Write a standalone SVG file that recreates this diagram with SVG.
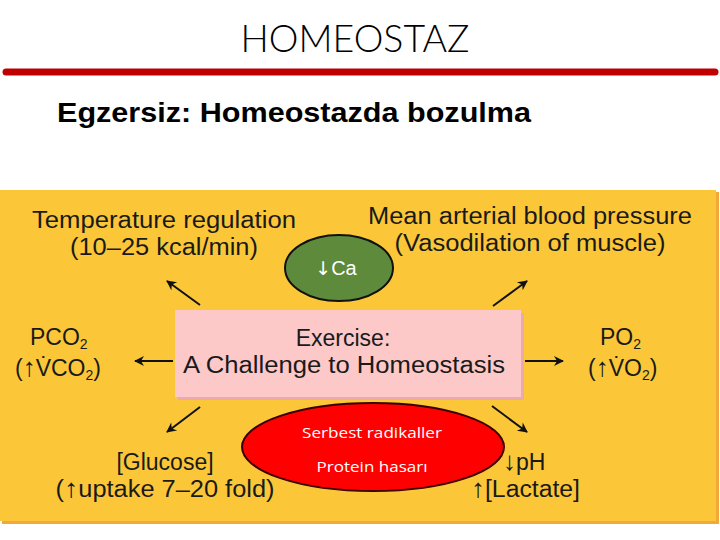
<svg xmlns="http://www.w3.org/2000/svg" width="720" height="540" viewBox="0 0 720 540">
<defs>
<style>
.h{font-family:"Liberation Sans",Arial,sans-serif;fill:#1a1a1a;font-size:23px}
.a{font-family:"Liberation Sans",Arial,sans-serif;font-size:26px}
.s{font-size:14px}
.w{font-family:"Open Sans","Liberation Sans",sans-serif;fill:#fff;font-size:15px}
.c{stroke:#111;stroke-width:2;fill:none;marker-end:url(#ah)}
</style>
<marker id="ah" viewBox="0 0 10 10" refX="9" refY="5" markerWidth="12" markerHeight="10" orient="auto" markerUnits="userSpaceOnUse">
<path d="M0,0 L10,5 L0,10 L3,5 z" fill="#111"/>
</marker>
</defs>
<rect width="720" height="540" fill="#fff"/>
<g id="title">
<text x="355" y="52" text-anchor="middle" font-family="Lato,Liberation Sans,Arial,sans-serif" font-weight="300" font-size="38" fill="#000" textLength="229" lengthAdjust="spacingAndGlyphs">HOMEOSTAZ</text>
<line x1="6" y1="72" x2="715" y2="72" stroke="#C00000" stroke-width="7" stroke-linecap="round"/>
<text x="57" y="122" font-family="Liberation Sans,Arial,sans-serif" font-weight="bold" font-size="28" fill="#000" textLength="474" lengthAdjust="spacingAndGlyphs">Egzersiz: Homeostazda bozulma</text>
</g>
<g id="panel">
<rect x="2" y="192" width="717" height="332" fill="#F0A93A"/>
<rect x="0" y="190" width="716" height="331" fill="#FBC739"/>
</g>
<g id="connectors">
<line class="c" x1="200" y1="305" x2="167" y2="281"/>
<line class="c" x1="493" y1="306" x2="527" y2="281"/>
<line class="c" x1="173" y1="361" x2="135" y2="361"/>
<line class="c" x1="525" y1="361" x2="563" y2="361"/>
<line class="c" x1="200" y1="407" x2="167" y2="432"/>
<line class="c" x1="492" y1="406" x2="527" y2="432"/>
</g>
<g id="temperature">
<text class="h" x="164" y="228" text-anchor="middle" textLength="264" lengthAdjust="spacingAndGlyphs">Temperature regulation</text>
<text class="h" x="164" y="255" text-anchor="middle" textLength="188" lengthAdjust="spacingAndGlyphs">(10–25 kcal/min)</text>
</g>
<g id="pressure">
<text class="h" x="530" y="224" text-anchor="middle" textLength="324" lengthAdjust="spacingAndGlyphs">Mean arterial blood pressure</text>
<text class="h" x="530" y="251" text-anchor="middle" textLength="271" lengthAdjust="spacingAndGlyphs">(Vasodilation of muscle)</text>
</g>
<g id="pco2">
<text class="h" x="30" y="345">PCO<tspan class="s" dy="4">2</tspan></text>
<text class="h" x="15" y="376">(<tspan class="a">↑</tspan>V̇CO<tspan class="s" dy="4">2</tspan><tspan dy="-4">)</tspan></text>
</g>
<g id="po2">
<text class="h" x="600" y="345">PO<tspan class="s" dy="4">2</tspan></text>
<text class="h" x="588" y="376">(<tspan class="a">↑</tspan>V̇O<tspan class="s" dy="4">2</tspan><tspan dy="-4">)</tspan></text>
</g>
<g id="glucose">
<text class="h" x="165" y="470" text-anchor="middle">[Glucose]</text>
<text class="h" x="165" y="497" text-anchor="middle" textLength="219" lengthAdjust="spacingAndGlyphs">(<tspan class="a">↑</tspan>uptake 7–20 fold)</text>
</g>
<g id="ph">
<text class="h" x="503" y="470"><tspan class="a">↓</tspan>pH</text>
<text class="h" x="471" y="497" textLength="109" lengthAdjust="spacingAndGlyphs"><tspan class="a">↑</tspan>[Lactate]</text>
</g>
<g id="exercise">
<rect x="178" y="313" width="346" height="87" fill="#EBAAAD"/>
<rect x="175" y="310" width="346" height="87" fill="#FCC8C8"/>
<text class="h" x="343" y="346" text-anchor="middle" font-size="24">Exercise:</text>
<text class="h" x="344" y="373" text-anchor="middle" font-size="24" textLength="322" lengthAdjust="spacingAndGlyphs">A Challenge to Homeostasis</text>
</g>
<g id="calcium">
<ellipse cx="339" cy="268" rx="54" ry="33" fill="#5E8A3C" stroke="#111" stroke-width="2"/>
<text x="336" y="275" text-anchor="middle" font-family="DejaVu Sans,sans-serif" font-size="19" fill="#fff"><tspan>↓</tspan><tspan font-family="Liberation Sans,Arial,sans-serif" font-size="20">Ca</tspan></text>
</g>
<g id="radicals">
<ellipse cx="373" cy="447" rx="131" ry="44" fill="#FF0000" stroke="#3a0000" stroke-width="2"/>
<text class="w" x="372" y="438" text-anchor="middle" textLength="140" lengthAdjust="spacingAndGlyphs">Serbest radikaller</text>
<text class="w" x="372" y="472" text-anchor="middle" textLength="111" lengthAdjust="spacingAndGlyphs">Protein hasarı</text>
</g>
</svg>
